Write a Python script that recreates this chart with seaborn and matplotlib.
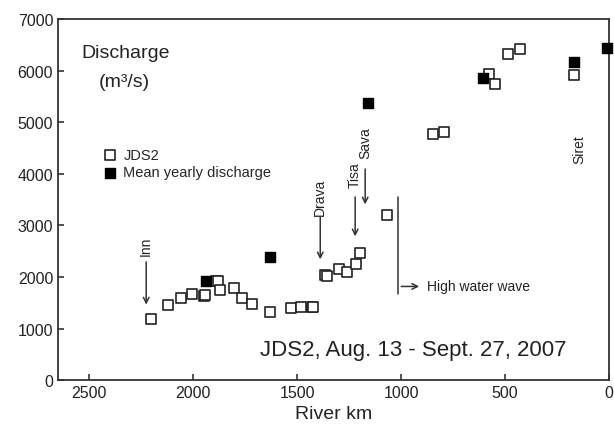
import numpy as np
import pandas as pd
import seaborn as sns
import matplotlib
matplotlib.use("Agg")
import matplotlib.pyplot as plt

# JDS2 survey (open squares)
jds2_km = [2202, 2119, 2059, 2006, 1947, 1942, 1889, 1881, 1870, 1806, 1766, 1718,
           1630, 1530, 1482, 1429, 1424, 1365, 1357, 1298, 1258, 1216, 1200, 1069,
           848, 793, 577, 548, 484, 428, 167]
jds2_q = [1182, 1453, 1595, 1661, 1622, 1647, 1924, 1924, 1750, 1777, 1583, 1467,
          1324, 1390, 1420, 1409, 1415, 2035, 2010, 2151, 2087, 2248, 2455, 3198,
          4781, 4820, 5930, 5736, 6318, 6415, 5911]

# mean yearly discharge (filled squares)
mean_km = [1939, 1630, 1157, 604, 167, 10]
mean_q = [1913, 2378, 5368, 5866, 6169, 6448]

# tributaries: name, km, text y, arrow start, arrow end
trib_names = ["Inn", "Drava", "Tisa", "Sava"]
trib_km = [2226, 1389, 1221, 1173]
trib_text_q = [2616, 3566, 3992, 4612]
trib_arrow_top = [2345, 3217, 3605, 4147]
trib_arrow_tip = [1409, 2287, 2733, 3353]

df_jds = pd.DataFrame({"km": jds2_km, "q": jds2_q})
df_mean = pd.DataFrame({"km": mean_km, "q": mean_q})

sns.set_style("ticks")
plt.rcParams['font.family'] = ['Liberation Sans', 'DejaVu Sans']

fig, ax = plt.subplots(figsize=(6.14, 4.39), dpi=100)
fig.subplots_adjust(left=0.0945, right=0.992, bottom=0.132, top=0.954)

sns.scatterplot(data=df_jds, x="km", y="q", marker="s", s=55, color="white",
                edgecolor="#222222", linewidth=1.2, ax=ax, label="JDS2", zorder=3)
sns.scatterplot(data=df_mean, x="km", y="q", marker="s", s=55, color="black",
                edgecolor="black", linewidth=1.0, ax=ax, label="Mean yearly discharge",
                zorder=4, clip_on=False)

ax.set_xlim(2650, 0)
ax.set_ylim(0, 7000)
ax.set_xticks([2500, 2000, 1500, 1000, 500, 0])
ax.set_yticks(range(0, 7001, 1000))
ax.set_xlabel("River km", fontsize=14, color="#222222")
ax.set_ylabel("")
ax.tick_params(direction="in", length=4, width=1.1, labelsize=11.5,
               colors="#222222", top=False, right=False)
for sp in ax.spines.values():
    sp.set_linewidth(1.3)
    sp.set_color("#333333")
    sp.set_visible(True)

# tributary arrows
for name, km, tq, a0, a1 in zip(trib_names, trib_km, trib_text_q, trib_arrow_top, trib_arrow_tip):
    ax.text(km, tq, name, rotation=90, ha="center", va="center", fontsize=10, color="#222222")
    ax.annotate("", xy=(km, a1), xytext=(km, a0),
                arrowprops=dict(arrowstyle="->", color="#333333", lw=1.1))

ax.text(144, 4496, "Siret", rotation=90, ha="center", va="center", fontsize=10, color="#222222")

# high water wave marker
ax.plot([1013, 1013], [1667, 3547], color="#333333", lw=1.1)
ax.annotate("", xy=(900, 1816), xytext=(1013, 1816),
            arrowprops=dict(arrowstyle="->", color="#333333", lw=1.1))
ax.text(876, 1816, "High water wave", ha="left", va="center", fontsize=10, color="#222222")

ax.text(0.042, 0.909, "Discharge", transform=ax.transAxes, fontsize=14,
        ha="left", va="center", color="#222222")
ax.text(0.073, 0.828, "(m³/s)", transform=ax.transAxes, fontsize=14,
        ha="left", va="center", color="#222222")
ax.text(0.644, 0.086, "JDS2, Aug. 13 - Sept. 27, 2007", transform=ax.transAxes,
        fontsize=16, ha="center", va="center", color="#222222")

ax.legend(loc="upper left", bbox_to_anchor=(0.071, 0.66), frameon=False,
          fontsize=10.5, handlelength=1.0, handletextpad=0.4, labelspacing=0.25,
          borderaxespad=0, markerscale=1.0)

fig.savefig("out.png", dpi=100)
